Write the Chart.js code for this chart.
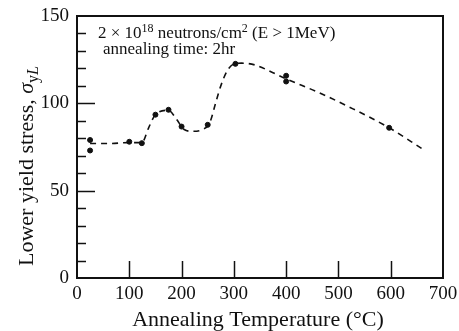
<!DOCTYPE html>
<html>
<head>
<meta charset="utf-8">
<script src="https://cdn.jsdelivr.net/npm/chart.js@4/dist/chart.umd.min.js"></script>
<style>
  body { margin: 0; background: #fff; }
  canvas { display: block; }
</style>
</head>
<body>
<canvas id="annealChart" width="459" height="331"></canvas>
<script>
// measured points (annealing temperature °C, lower yield stress)
const tempPts = [25, 25, 100, 124, 150, 175, 200, 250, 303, 400, 400, 597];
const stressPts = [79, 73, 78, 77.2, 93.5, 96.3, 86.7, 87.7, 122.6, 115.8, 112.5, 86];

// dashed trend curve
const curveT = [25, 60, 100, 124, 137, 150, 175, 190, 205, 220, 240, 254, 265, 275, 288, 300, 315, 340, 375, 400, 460, 520, 597, 660];
const curveS = [77, 77, 77.5, 77.5, 86, 93.5, 96, 91, 85, 84, 85, 89, 100, 110, 119, 122.5, 123, 122, 117.5, 114, 106.5, 98, 86, 74];

const yTicks = [0, 50, 100, 150];
const xTicks = [0, 100, 200, 300, 400, 500, 600, 700];

const serif = '"Liberation Serif", "DejaVu Serif", serif';

const frame = {
  id: "frame",
  afterDraw(chart) {
    const { ctx, chartArea: ca, scales } = chart;
    ctx.save();
    ctx.strokeStyle = "#111";
    ctx.lineWidth = 1.5;
    // minor / major ticks on left axis, pointing inward
    for (let v = 10; v < 150; v += 10) {
      const py = Math.round(scales.y.getPixelForValue(v)) + 0.5;
      const len = v % 50 === 0 ? 18 : 9;
      ctx.beginPath();
      ctx.moveTo(ca.left, py);
      ctx.lineTo(ca.left + len, py);
      ctx.stroke();
    }
    // ticks on bottom axis
    for (let v = 100; v < 700; v += 100) {
      const px = Math.round(scales.x.getPixelForValue(v)) + 0.5;
      ctx.beginPath();
      ctx.moveTo(px, ca.bottom);
      ctx.lineTo(px, ca.bottom - 17);
      ctx.stroke();
    }
    ctx.lineWidth = 2;
    ctx.strokeRect(ca.left, ca.top, ca.right - ca.left, ca.bottom - ca.top);

    ctx.fillStyle = "#111";
    ctx.textBaseline = "alphabetic";
    ctx.textAlign = "left";

    // annotation
    let x = 98;
    const put = (t, f, dy) => {
      ctx.font = f;
      ctx.fillText(t, x, 38 + dy);
      x += ctx.measureText(t).width;
    };
    put("2 × 10", "17px " + serif, 0);
    put("18", "12px " + serif, -6);
    put(" neutrons/cm", "17px " + serif, 0);
    put("2", "12px " + serif, -6);
    put(" (E > 1MeV)", "17px " + serif, 0);
    ctx.font = "17px " + serif;
    ctx.fillText("annealing time: 2hr", 103, 54);

    // x axis title
    ctx.font = "22px " + serif;
    ctx.textAlign = "center";
    ctx.fillText("Annealing Temperature (°C)", 258, 326);

    // y axis title
    ctx.translate(33, 166);
    ctx.rotate(-Math.PI / 2);
    ctx.textAlign = "left";
    const parts = [
      ["Lower yield stress, ", "22px " + serif, 0],
      ["σ", "italic 22px " + serif, 0],
      ["y", "16px " + serif, 5],
      ["L", "italic 16px " + serif, 5],
    ];
    let w = 0;
    parts.forEach((p) => { ctx.font = p[1]; w += ctx.measureText(p[0]).width; });
    let tx = -w / 2;
    parts.forEach((p) => {
      ctx.font = p[1];
      ctx.fillText(p[0], tx, p[2]);
      tx += ctx.measureText(p[0]).width;
    });
    ctx.restore();
  },
};

const ctx = document.getElementById("annealChart").getContext("2d");
const myChart = new Chart(ctx, {
  type: "scatter",
  data: {
    datasets: [
      {
        label: "measured",
        data: tempPts.map((t, i) => ({ x: t, y: stressPts[i] })),
        backgroundColor: "#111",
        borderColor: "#111",
        pointRadius: 2.5,
        showLine: false,
      },
      {
        label: "trend",
        data: curveT.map((t, i) => ({ x: t, y: curveS[i] })),
        borderColor: "#111",
        borderWidth: 1.6,
        borderDash: [6, 5],
        pointRadius: 0,
        showLine: true,
        cubicInterpolationMode: "monotone",
      },
    ],
  },
  options: {
    responsive: false,
    animation: false,
    layout: { padding: { top: 16, right: 16, left: 0, bottom: 0 } },
    plugins: {
      legend: { display: false },
      tooltip: { enabled: false },
    },
    scales: {
      x: {
        type: "linear",
        min: 0,
        max: 700,
        afterFit: (s) => {
          s.height = 53;
          s.paddingLeft = 0;
          s.paddingRight = 0;
        },
        afterBuildTicks: (s) => { s.ticks = xTicks.map((v) => ({ value: v })); },
        grid: { display: false, drawTicks: false },
        border: { display: false },
        ticks: { color: "#111", padding: 5, maxRotation: 0, font: { family: serif, size: 19 } },
      },
      y: {
        min: 0,
        max: 150,
        afterFit: (s) => {
          s.width = 77;
          s.paddingTop = 0;
          s.paddingBottom = 0;
        },
        afterBuildTicks: (s) => { s.ticks = yTicks.map((v) => ({ value: v })); },
        grid: { display: false, drawTicks: false },
        border: { display: false },
        ticks: { color: "#111", padding: 8, font: { family: serif, size: 19 } },
      },
    },
  },
  plugins: [frame],
});
</script>
</body>
</html>
